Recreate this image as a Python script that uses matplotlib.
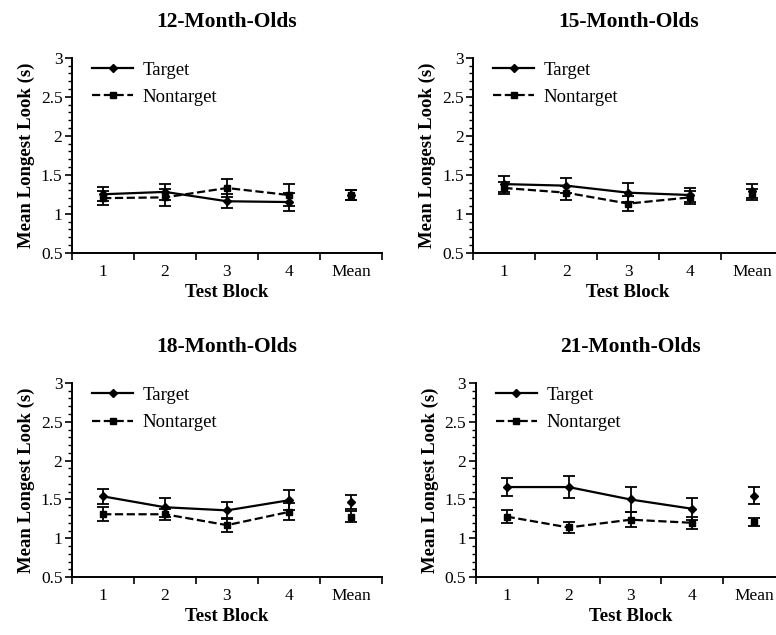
import matplotlib
matplotlib.use("Agg")
from matplotlib import pyplot as plt
from matplotlib.lines import Line2D
from matplotlib.ticker import MultipleLocator, FixedLocator, NullFormatter, FormatStrFormatter

plt.rcParams['font.family'] = ['Liberation Serif', 'DejaVu Serif']

categories = ["1", "2", "3", "4", "Mean"]
titles = ["12-Month-Olds", "15-Month-Olds", "18-Month-Olds", "21-Month-Olds"]

# blocks 1-4 then the overall mean
target_12 = [1.25, 1.28, 1.16, 1.15, 1.24]
target_12_err = [0.09, 0.10, 0.09, 0.11, 0.06]
nontarget_12 = [1.20, 1.21, 1.33, 1.24, 1.24]
nontarget_12_err = [0.09, 0.11, 0.12, 0.14, 0.07]

target_15 = [1.38, 1.36, 1.27, 1.24, 1.29]
target_15_err = [0.10, 0.10, 0.12, 0.09, 0.09]
nontarget_15 = [1.33, 1.27, 1.13, 1.21, 1.25]
nontarget_15_err = [0.08, 0.09, 0.10, 0.08, 0.07]

target_18 = [1.54, 1.40, 1.36, 1.49, 1.47]
target_18_err = [0.10, 0.12, 0.11, 0.13, 0.09]
nontarget_18 = [1.31, 1.31, 1.17, 1.34, 1.28]
nontarget_18_err = [0.09, 0.07, 0.09, 0.11, 0.07]

target_21 = [1.66, 1.66, 1.50, 1.38, 1.55]
target_21_err = [0.12, 0.14, 0.16, 0.14, 0.11]
nontarget_21 = [1.28, 1.14, 1.24, 1.20, 1.21]
nontarget_21_err = [0.08, 0.07, 0.10, 0.08, 0.05]

panels = [
    (target_12, target_12_err, nontarget_12, nontarget_12_err),
    (target_15, target_15_err, nontarget_15, nontarget_15_err),
    (target_18, target_18_err, nontarget_18, nontarget_18_err),
    (target_21, target_21_err, nontarget_21, nontarget_21_err),
]

# axes boxes [left, bottom, width, height] in figure fraction
boxes = [
    [0.093, 0.602, 0.399, 0.307],
    [0.610, 0.602, 0.399, 0.307],
    [0.093, 0.091, 0.399, 0.306],
    [0.613, 0.091, 0.399, 0.306],
]

fig = plt.figure(figsize=(7.76, 6.35), dpi=100)

eb = dict(color='black', capsize=4, elinewidth=1.3, capthick=1.3)

for box, title, (t, te, n, ne) in zip(boxes, titles, panels):
    ax = fig.add_axes(box)
    x = list(range(len(categories)))
    blocks = x[:4]

    # lines over the four blocks
    ax.errorbar(blocks, t[:4], yerr=te[:4], lw=1.6, marker='D', markersize=4, **eb)
    ax.errorbar(blocks, n[:4], yerr=ne[:4], lw=1.6, ls='--', marker='s', markersize=5, **eb)
    # the overall means, no connecting line
    ax.errorbar([x[4]], [t[4]], yerr=[te[4]], marker='D', markersize=4, ls='none', **eb)
    ax.errorbar([x[4]], [n[4]], yerr=[ne[4]], marker='s', markersize=5, ls='none', **eb)

    ax.set_xlim(-0.5, 4.5)
    ax.set_ylim(0.5, 3)
    ax.yaxis.set_major_locator(MultipleLocator(0.5))
    ax.yaxis.set_minor_locator(MultipleLocator(0.1))
    ax.yaxis.set_major_formatter(FormatStrFormatter('%g'))
    ax.tick_params(axis='y', which='major', length=5, width=1.2, labelsize=12.5, pad=2)
    ax.tick_params(axis='y', which='minor', length=3, width=1)

    # category axis: tick marks between categories, labels centered
    ax.xaxis.set_major_locator(FixedLocator([-0.5, 0.5, 1.5, 2.5, 3.5, 4.5]))
    ax.xaxis.set_major_formatter(NullFormatter())
    ax.xaxis.set_minor_locator(FixedLocator(x))
    ax.set_xticklabels(categories, minor=True)
    ax.tick_params(axis='x', which='major', length=5, width=1.2)
    ax.tick_params(axis='x', which='minor', length=0, labelsize=12.5, pad=8)

    for side in ['top', 'right']:
        ax.spines[side].set_visible(False)
    for side in ['left', 'bottom']:
        ax.spines[side].set_linewidth(1.4)

    ax.set_xlabel('Test Block', fontsize=13.5, fontweight='bold', labelpad=3)
    ax.set_ylabel('Mean Longest Look (s)', fontsize=13.5, fontweight='bold', labelpad=4)
    ax.set_title(title, fontsize=15.5, fontweight='bold', pad=22)

    handles = [
        Line2D([], [], color='black', lw=1.6, marker='D', markersize=4),
        Line2D([], [], color='black', lw=1.6, ls='--', marker='s', markersize=5),
    ]
    ax.legend(handles, ['Target', 'Nontarget'], loc='upper left', frameon=False,
              fontsize=13.5, handlelength=2.2, handletextpad=0.5,
              borderaxespad=0.0, bbox_to_anchor=(0.04, 1.02), labelspacing=0.55)

fig.savefig('out.png', dpi=100)
